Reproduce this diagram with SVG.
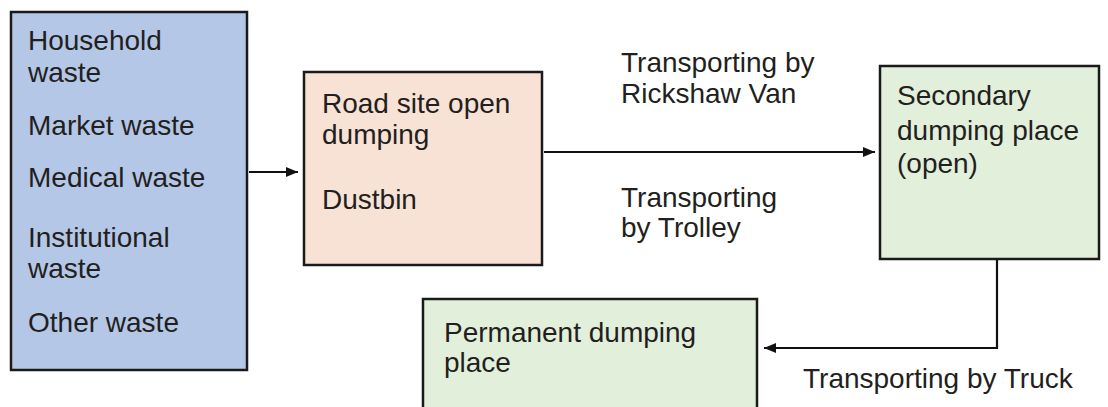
<svg xmlns="http://www.w3.org/2000/svg" width="1108" height="407" viewBox="0 0 1108 407">
<defs>
<marker id="ah" markerWidth="12" markerHeight="10" refX="12" refY="5" orient="auto" markerUnits="userSpaceOnUse">
<path d="M0,0 L12,5 L0,10 Z" fill="#111"/>
</marker>
<style>
.box{stroke:#1a1a1a;stroke-width:2.5}
.t{font-family:"Liberation Sans",Arial,sans-serif;font-size:28px;fill:#231f20}
.c{fill:none;stroke:#111;stroke-width:2.2}
</style>
</defs>
<rect width="1108" height="407" fill="#fff"/>
<g id="sources">
<rect class="box" x="11" y="12" width="236" height="358" fill="#b4c7e7"/>
<text class="t" x="28" y="50">Household</text>
<text class="t" x="28" y="82">waste</text>
<text class="t" x="28" y="135">Market waste</text>
<text class="t" x="28" y="187">Medical waste</text>
<text class="t" x="28" y="247">Institutional</text>
<text class="t" x="28" y="278">waste</text>
<text class="t" x="28" y="332">Other waste</text>
</g>
<g id="primary">
<rect class="box" x="304" y="72" width="238" height="193" fill="#f8e2d5"/>
<text class="t" x="322" y="113">Road site open</text>
<text class="t" x="322" y="144">dumping</text>
<text class="t" x="322" y="209">Dustbin</text>
</g>
<g id="secondary">
<rect class="box" x="880" y="66" width="219" height="193" fill="#e2efda"/>
<text class="t" x="897" y="105">Secondary</text>
<text class="t" x="897" y="140">dumping place</text>
<text class="t" x="897" y="173">(open)</text>
</g>
<g id="permanent">
<rect class="box" x="423" y="299" width="334" height="130" fill="#e2efda"/>
<text class="t" x="444" y="342">Permanent dumping</text>
<text class="t" x="444" y="372">place</text>
</g>
<g id="connectors">
<line class="c" x1="249" y1="172" x2="298" y2="172" marker-end="url(#ah)"/>
<line class="c" x1="544" y1="152" x2="875" y2="152" marker-end="url(#ah)"/>
<polyline class="c" points="997,260 997,348 764,348" marker-end="url(#ah)"/>
</g>
<g id="labels">
<text class="t" x="621" y="72">Transporting by</text>
<text class="t" x="621" y="103">Rickshaw Van</text>
<text class="t" x="621" y="207">Transporting</text>
<text class="t" x="621" y="237">by Trolley</text>
<text class="t" x="803" y="388">Transporting by Truck</text>
</g>
</svg>
